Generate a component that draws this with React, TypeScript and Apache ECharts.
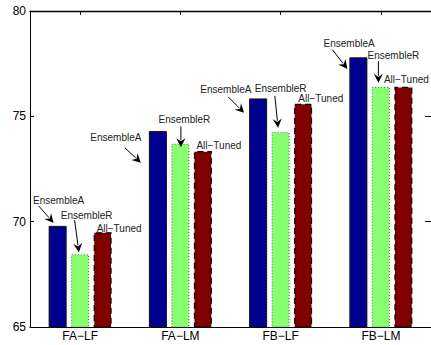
import React, { useEffect, useRef } from "react";
import * as echarts from "echarts";

const categories = ["FA−LF", "FA−LM", "FB−LF", "FB−LM"];
const seriesNames = ["EnsembleA", "EnsembleR", "All−Tuned"];
const ensembleA = [69.8, 74.3, 75.85, 77.8];
const ensembleR = [68.45, 73.7, 74.25, 76.4];
const allTuned = [69.5, 73.35, 75.6, 76.4];
const yTicks = [65, 70, 75, 80];

// annotation layout, relative to the top-centre of each bar:
// [textDx, textDy, arrowFromDx, arrowFromDy, arrowToDx, arrowToDy] (null arrow = none)
type Ann = [number, number, number | null, number | null, number | null, number | null];
const annLayout: Ann[][] = [
  [
    [1, -25, -19, -20, -4, -3],
    [6.5, -39, -5.5, -34, -1.2, -2],
    [16.5, -4, null, null, null, null],
  ],
  [
    [-42, 6.4, -33, 16.7, -17, 31.7],
    [4, -24.6, 0.5, -17.3, 0.5, 3.5],
    [16, -5.3, null, null, null, null],
  ],
  [
    [-32.3, -9, -30, -1.6, -14, 14.4],
    [0, -43.3, -5.8, -36.3, -2.5, -4.3],
    [17.7, -5.3, null, null, null, null],
  ],
  [
    [-9.3, -13.4, -26, -7.7, -11, 11.6],
    [12.5, -31.3, -2.5, -25.6, -2.5, -4],
    [3, -7.6, null, null, null, null],
  ],
];

const BAR_W = 18;
const BAR_GAP = 0.25;
const FONT = '"Liberation Sans", Arial, Helvetica, sans-serif';

export default function App() {
  const ref = useRef<HTMLDivElement>(null);
  useEffect(() => {
    if (!ref.current) return;
    const chart = echarts.init(ref.current, undefined, { renderer: "svg" });
    const values = [ensembleA, ensembleR, allTuned];
    const colors = ["#000090", "#88ff6e", "#800000"];
    const borders: any[] = [
      { borderColor: "#111", borderWidth: 1, borderType: "solid" },
      { borderColor: "#556655", borderWidth: 1, borderType: [1, 2] },
      { borderColor: "#000", borderWidth: 1.2, borderType: [6, 4] },
    ];
    chart.setOption({
      animation: false,
      backgroundColor: "#fff",
      grid: { left: 30, top: 11, width: 404, height: 316, containLabel: false },
      xAxis: [
        {
          type: "category",
          data: categories,
          position: "bottom",
          axisLine: { show: true, lineStyle: { color: "#000", width: 1 } },
          axisTick: { show: true, inside: true, alignWithLabel: true, length: 4, lineStyle: { color: "#000" } },
          axisLabel: { color: "#000", fontSize: 12, fontFamily: FONT, margin: 3 },
          splitLine: { show: false },
        },
        {
          type: "category",
          data: categories,
          position: "top",
          axisLine: { show: true, onZero: false, lineStyle: { color: "#000", width: 1.3 } },
          axisTick: { show: true, inside: true, alignWithLabel: true, length: 4, lineStyle: { color: "#000" } },
          axisLabel: { show: false },
          splitLine: { show: false },
        },
      ],
      yAxis: [
        {
          type: "value",
          min: yTicks[0],
          max: yTicks[yTicks.length - 1],
          interval: 5,
          position: "left",
          axisLine: { show: true, onZero: false, lineStyle: { color: "#000", width: 1 } },
          axisTick: { show: true, inside: true, length: 4, lineStyle: { color: "#000" } },
          axisLabel: { color: "#000", fontSize: 12, fontFamily: FONT, margin: 4 },
          splitLine: { show: false },
        },
        {
          type: "value",
          min: yTicks[0],
          max: yTicks[yTicks.length - 1],
          interval: 5,
          position: "right",
          axisLine: { show: true, onZero: false, lineStyle: { color: "#000", width: 1 } },
          axisTick: { show: true, inside: true, length: 6, lineStyle: { color: "#000" } },
          axisLabel: { show: false },
          splitLine: { show: false },
        },
      ],
      series: values.map((v, i) => ({
        name: seriesNames[i],
        type: "bar",
        data: v,
        barWidth: BAR_W,
        barGap: BAR_GAP * 100 + "%",
        itemStyle: { color: colors[i], ...borders[i] },
        xAxisIndex: 0,
        yAxisIndex: 0,
      })),
    });

    const step = BAR_W * (1 + BAR_GAP);
    const graphic: any[] = [];
    categories.forEach((c, ci) => {
      values.forEach((v, si) => {
        const p = chart.convertToPixel({ xAxisIndex: 0, yAxisIndex: 0 }, [ci, v[ci]]) as number[];
        const bx = p[0] + (si - 1) * step;
        const by = p[1];
        const a = annLayout[ci][si];
        graphic.push({
          type: "text",
          x: bx + a[0],
          y: by + a[1],
          z: 100,
          style: {
            text: seriesNames[si],
            fill: "#222",
            font: `10px ${FONT}`,
            align: "center",
            verticalAlign: "middle",
          },
        });
        if (a[2] !== null) {
          const sx = bx + (a[2] as number);
          const sy = by + (a[3] as number);
          const tx = bx + (a[4] as number);
          const ty = by + (a[5] as number);
          const dx = tx - sx;
          const dy = ty - sy;
          const len = Math.sqrt(dx * dx + dy * dy);
          const ux = dx / len;
          const uy = dy / len;
          const hl = 9;
          const hw = 4.5;
          const bxh = tx - ux * hl;
          const byh = ty - uy * hl;
          const nx = -uy;
          const ny = ux;
          graphic.push({
            type: "line",
            z: 100,
            shape: { x1: sx, y1: sy, x2: bxh + ux * 2, y2: byh + uy * 2 },
            style: { stroke: "#000", lineWidth: 1 },
          });
          graphic.push({
            type: "polygon",
            z: 100,
            shape: {
              points: [
                [tx, ty],
                [bxh + nx * hw, byh + ny * hw],
                [tx - ux * hl * 0.65, ty - uy * hl * 0.65],
                [bxh - nx * hw, byh - ny * hw],
              ],
            },
            style: { fill: "#000" },
          });
        }
      });
    });
    chart.setOption({ graphic });

    return () => chart.dispose();
  }, []);
  return (
    <div
      ref={ref}
      style={{ position: "fixed", left: 0, top: 0, width: 431, height: 345 }}
    />
  );
}
